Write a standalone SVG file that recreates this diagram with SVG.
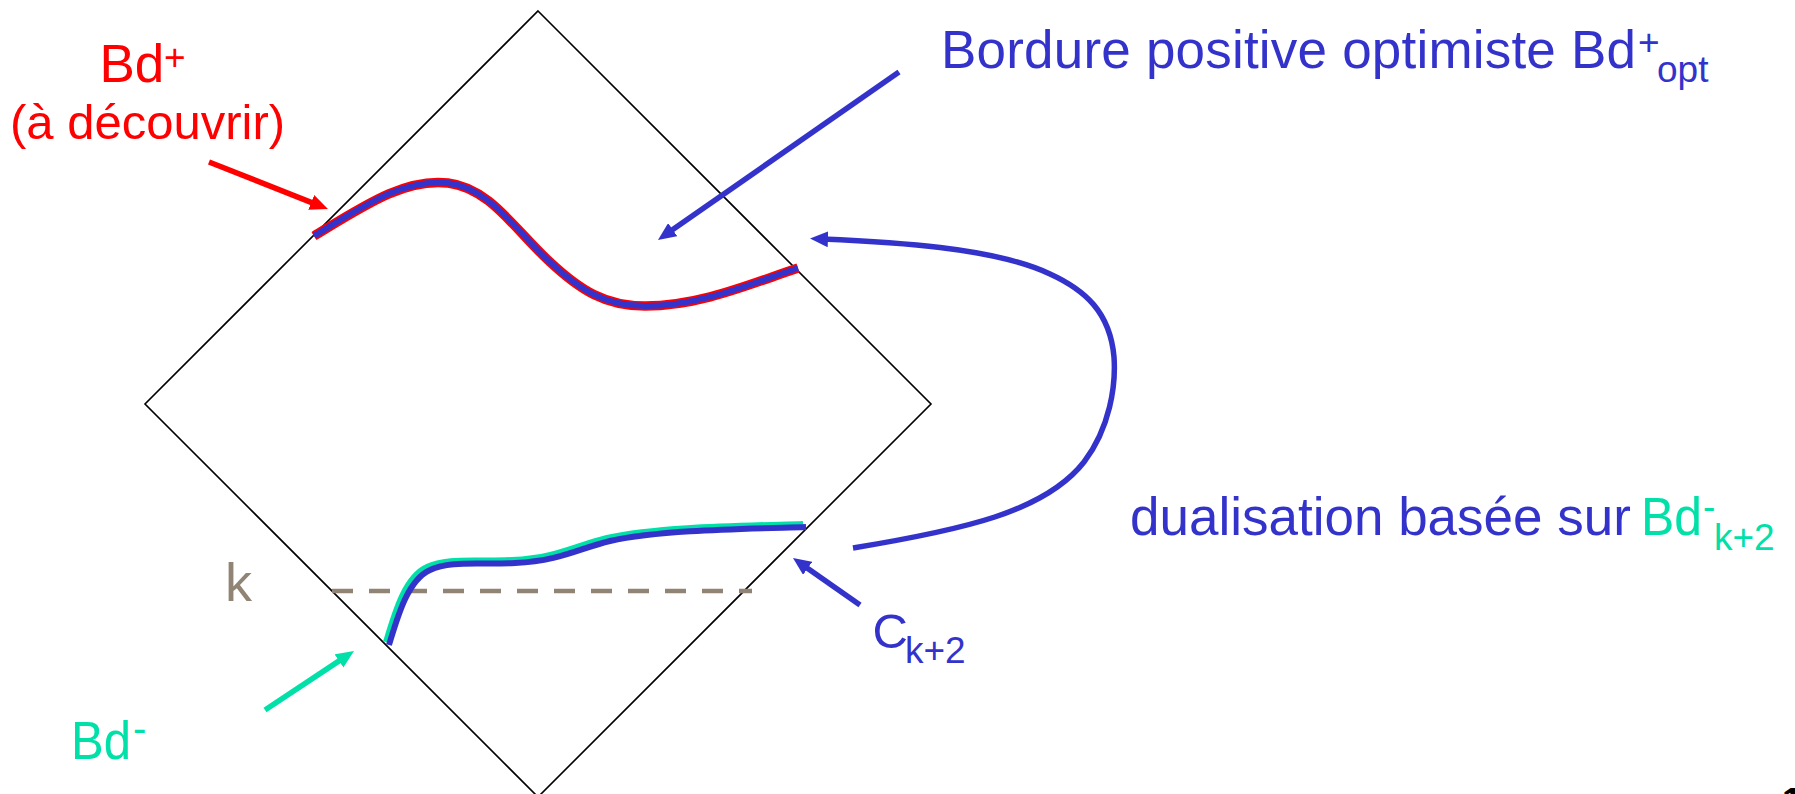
<svg xmlns="http://www.w3.org/2000/svg" width="1795" height="794" viewBox="0 0 1795 794">
<style>
text{font-family:"Liberation Sans",Arial,sans-serif}
.blue{fill:#3333CC}
.red{fill:#FF0000}
.green{fill:#00E0A8}
.gray{fill:#928475}
.arr{fill:none;stroke-width:5.5;stroke-linecap:butt}
</style>
<defs>
<marker id="hb" markerUnits="userSpaceOnUse" viewBox="0 0 18 16" refX="6" refY="8" markerWidth="18" markerHeight="16" orient="auto"><path d="M0,0 L18,8 L0,16 z" fill="#3333CC"/></marker>
<marker id="hr" markerUnits="userSpaceOnUse" viewBox="0 0 18 16" refX="6" refY="8" markerWidth="18" markerHeight="16" orient="auto"><path d="M0,0 L18,8 L0,16 z" fill="#FF0000"/></marker>
<marker id="hg" markerUnits="userSpaceOnUse" viewBox="0 0 18 16" refX="6" refY="8" markerWidth="18" markerHeight="16" orient="auto"><path d="M0,0 L18,8 L0,16 z" fill="#00E0A8"/></marker>
</defs>
<rect width="1795" height="794" fill="#FFFFFF"/>
<g id="lattice">
<path d="M538,11 L931,404 L538,797 L145,404 Z" fill="none" stroke="#000" stroke-width="1.6"/>
</g>
<g id="level-k">
<path d="M332,591 H752" stroke="#928475" stroke-width="4.5" stroke-dasharray="21 16" fill="none"/>
<text class="gray" x="225" y="601" font-size="54">k</text>
</g>
<g id="bd-plus-curve">
<path d="M314,236 C365,205 405,178 448,183 C490,188 515,230 550,262 C580,290 605,306 645,306 C700,306 750,284 798,268" fill="none" stroke="#FF0000" stroke-width="9.5"/>
<path d="M314,236 C365,205 405,178 448,183 C490,188 515,230 550,262 C580,290 605,306 645,306 C700,306 750,284 798,268" fill="none" stroke="#3333CC" stroke-width="6"/>
</g>
<g id="bd-minus-curve">
<path d="M386,642 C395,612 405,577 427,567 C447,557 477,562 512,560 C557,558 577,545 607,538 C657,527 737,526 803,524" fill="none" stroke="#00E0A8" stroke-width="6"/>
<path d="M389,645 C398,615 408,580 430,570 C450,560 480,565 515,563 C560,561 580,548 610,541 C660,530 740,529 806,527" fill="none" stroke="#3333CC" stroke-width="6"/>
</g>
<g id="connectors">
<path class="arr" d="M209,162 L316.8,204.6" stroke="#FF0000" stroke-width="6" marker-end="url(#hr)"/>
<path class="arr" d="M899,72 L667.8,233.1" stroke="#3333CC" marker-end="url(#hb)"/>
<path class="arr" d="M853,548 C962,530 1045,512 1084,462 C1110,428 1116,385 1114,357 C1110,312 1085,290 1050,274 C993,247 890,242 822,239" stroke="#3333CC" marker-end="url(#hb)"/>
<path class="arr" d="M860,605 L802.8,564.9" stroke="#3333CC" marker-end="url(#hb)"/>
<path class="arr" d="M265,710 L344,657.6" stroke="#00E0A8" marker-end="url(#hg)"/>
</g>
<g id="label-bd-plus">
<text class="red" x="99.4" y="82" font-size="53">Bd<tspan x="164" y="70" font-size="37">+</tspan></text>
<text class="red" x="10" y="138.5" font-size="49">(à découvrir)</text>
</g>
<g id="label-bordure">
<text class="blue" x="941" y="68" font-size="53" textLength="695">Bordure positive optimiste Bd</text>
<text class="blue" font-size="37"><tspan x="1638" y="55">+</tspan><tspan x="1657" y="82">opt</tspan></text>
</g>
<g id="label-dualisation">
<text class="blue" x="1130" y="535" font-size="53">dualisation basée sur</text>
<text class="green" x="1641" y="535" font-size="53" textLength="61" lengthAdjust="spacingAndGlyphs">Bd</text>
<text class="green" font-size="37"><tspan x="1703" y="519">-</tspan><tspan x="1714" y="550">k+2</tspan></text>
</g>
<g id="label-ck2">
<text class="blue" x="872.5" y="648" font-size="49">C<tspan x="905" y="663" font-size="37">k+2</tspan></text>
</g>
<g id="label-bd-minus">
<text class="green" x="71" y="759" font-size="53" textLength="60" lengthAdjust="spacingAndGlyphs">Bd</text>
<text class="green" x="133" y="742" font-size="40">-</text>
</g>
<g id="page-number">
<text x="1782" y="814" font-size="36" font-weight="bold" fill="#000">1</text>
</g>
</svg>
